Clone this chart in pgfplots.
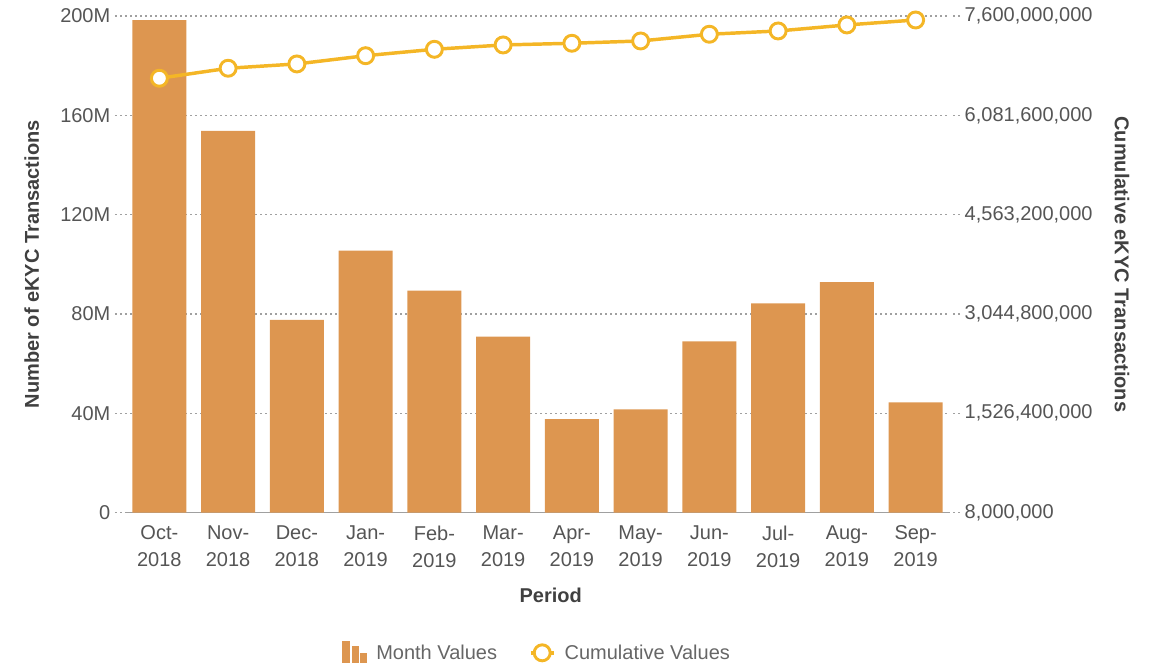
\documentclass[border=0pt]{standalone}
\usepackage{pgfplots}
\pgfplotsset{compat=1.18}
\usepackage{fontspec}
\setmainfont{Liberation Sans}

\definecolor{barc}{HTML}{DD9650}
\definecolor{linec}{HTML}{F4B626}
\definecolor{tickc}{HTML}{555555}
\definecolor{labc}{HTML}{404040}
\definecolor{gridc}{HTML}{A0A0A0}
\definecolor{legc}{HTML}{666666}

\pgfplotsset{
  common/.style={
    scale only axis, width=618.75pt, height=372.4pt,
    xmin=-0.5, xmax=11.5,
    tick align=outside, major tick length=7.5pt,
    ytick style={gridc, dash pattern=on 1.5pt off 2.25pt, line width=0.9pt},
    xtick style={draw=none},
    tick label style={font=\fontsize{15}{20}\selectfont, text=tickc},
    label style={font=\bfseries\fontsize{15}{18}\selectfont, text=labc},
    /pgf/number format/assume math mode=true,
    scaled y ticks=false,
  },
}

\begin{document}
\begin{tikzpicture}
\path[use as bounding box] (-93.75pt,-114.3pt) rectangle (768.75pt,384.45pt);

% monthly values (millions) on the left axis
\begin{axis}[
  common,
  ymin=0, ymax=200,
  ytick={0,40,80,120,160,200},
  yticklabels={0,40M,80M,120M,160M,200M},
  xtick={0,...,11},
  xticklabels={Oct-\\2018,Nov-\\2018,Dec-\\2018,Jan-\\2019,Feb-\\2019,Mar-\\2019,
               Apr-\\2019,May-\\2019,Jun-\\2019,Jul-\\2019,Aug-\\2019,Sep-\\2019},
  xticklabel style={align=center, yshift=1pt},
  axis x line*=bottom, axis y line*=left,
  y axis line style={draw=none},
  x axis line style={gridc, line width=1pt},
  ymajorgrids,
  grid style={gridc, dash pattern=on 1.5pt off 2.25pt, line width=0.9pt},
  xlabel={Period},
  xlabel style={at={(axis description cs:0.516,-0.166)}, anchor=center},
  ylabel={Number of eKYC Transactions},
  ylabel style={at={(axis description cs:-0.113,0.5)}, anchor=center},
  ybar, bar width=40.5pt,
]
\addplot[fill=barc, draw=none] coordinates {
  (0,198.4) (1,153.8) (2,77.6) (3,105.5) (4,89.4) (5,70.9)
  (6,37.7) (7,41.6) (8,69.0) (9,84.3) (10,92.8) (11,44.4)
};
\end{axis}

% cumulative values on the right axis
\begin{axis}[
  common,
  ymin=8000000, ymax=7600000000,
  axis x line=none, axis y line*=right,
  y axis line style={draw=none},
  ytick={8000000,1526400000,3044800000,4563200000,6081600000,7600000000},
  yticklabels={{8,000,000},{1,526,400,000},{3,044,800,000},{4,563,200,000},{6,081,600,000},{7,600,000,000}},
  ylabel={Cumulative eKYC Transactions},
  ylabel style={rotate=180, at={(axis description cs:1.2085,0.5)}, anchor=center},
  legend columns=2,
  legend style={draw=none, fill=none, at={(axis description cs:0.5,-0.281)}, anchor=center,
    font=\fontsize{15}{18}\selectfont, text=legc,
    /tikz/every odd column/.append style={column sep=5pt},
    /tikz/every even column/.append style={column sep=22pt}},
]
\addlegendimage{legend image code/.code={
  \fill[barc] (0pt,-7pt) rectangle (5pt,9pt);
  \fill[barc] (7pt,-7pt) rectangle (11.5pt,5pt);
  \fill[barc] (13.5pt,-7pt) rectangle (18pt,0pt);}}
\addlegendentry{Month Values}
\addplot[linec, line width=2.6pt, mark=*, mark size=6pt,
  mark options={fill=white, draw=linec, line width=2.2pt}] coordinates {
  (0,6649000000) (1,6802000000) (2,6868000000) (3,6994000000)
  (4,7092000000) (5,7158000000) (6,7184000000) (7,7219000000)
  (8,7322000000) (9,7372000000) (10,7464000000) (11,7540000000)
};
\addlegendentry{Cumulative Values}
\end{axis}
\end{tikzpicture}
\end{document}
